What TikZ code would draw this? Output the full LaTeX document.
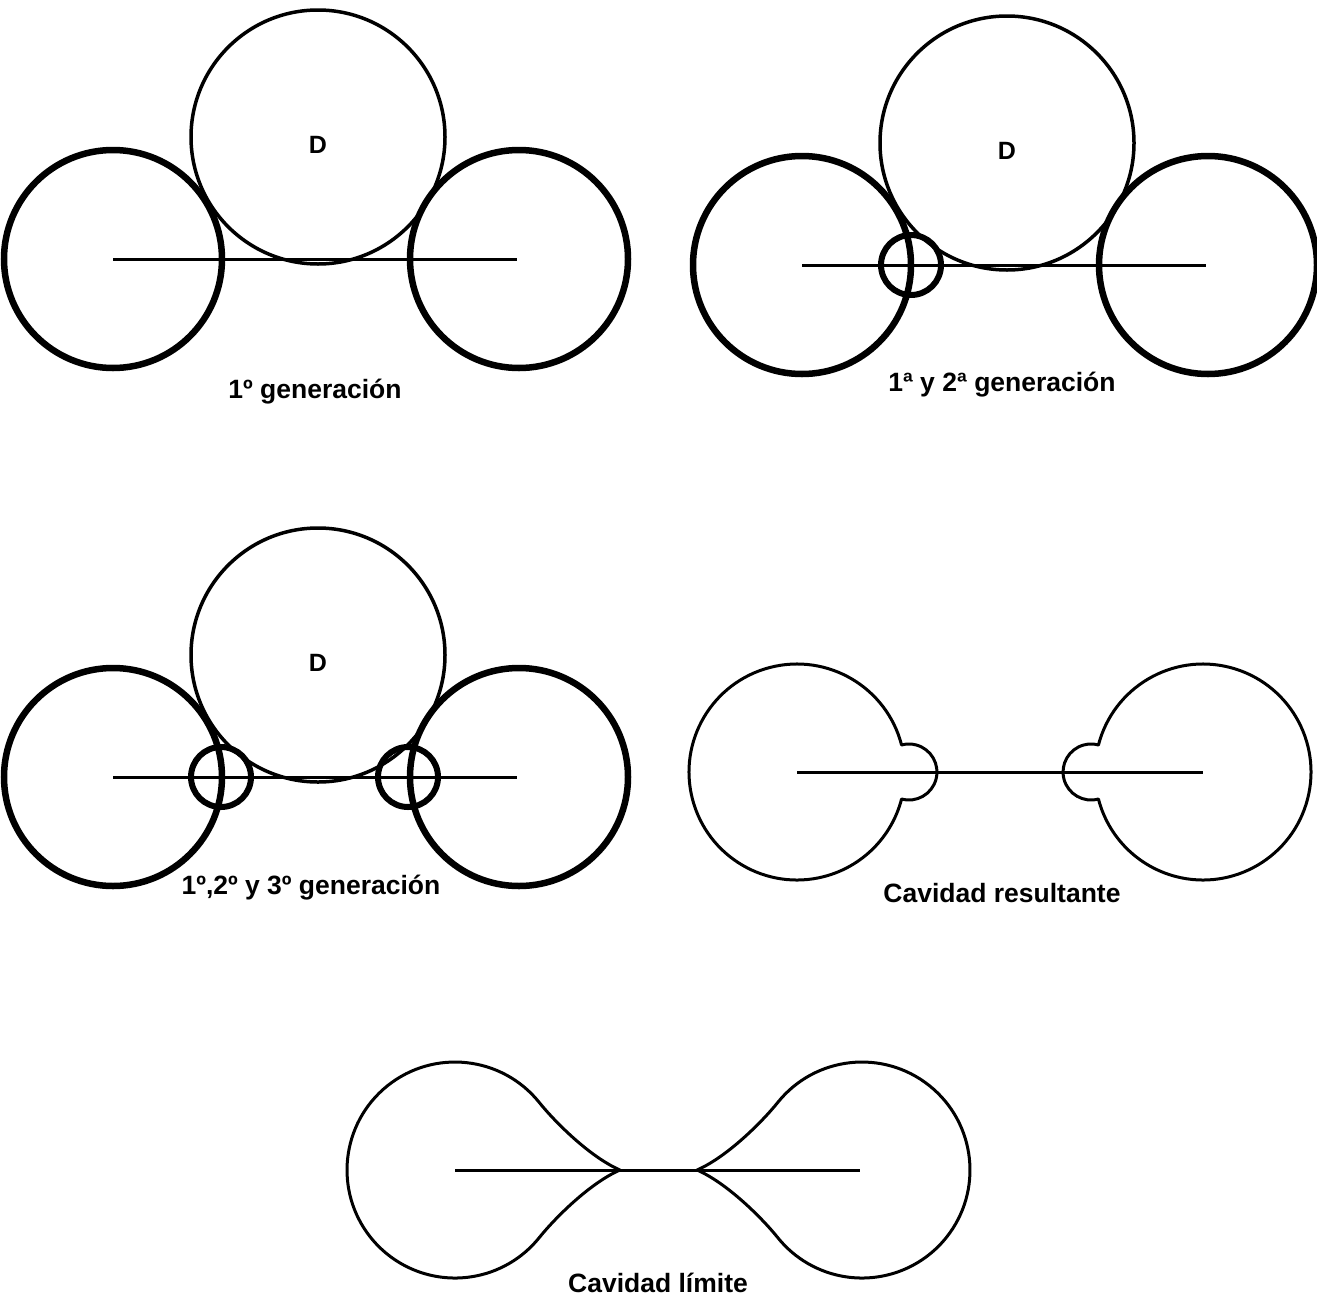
\documentclass[tikz,border=0pt]{standalone}
\usepackage{fontspec}
\setmainfont{Liberation Sans}
\usetikzlibrary{positioning}
\tikzset{
  big/.style={line width=6.5pt},
  ring/.style={line width=6pt},
  dcirc/.style={line width=3.5pt},
  axis/.style={line width=3pt},
  edge/.style={line width=3pt, line join=round},
  lbl/.style={font=\fontsize{26.5}{28}\selectfont\bfseries, inner sep=0pt},
  dlbl/.style={font=\fontsize{25}{27}\selectfont\bfseries, inner sep=0pt},
}

\begin{document}
\begin{tikzpicture}[x=1pt,y=-1pt]
\useasboundingbox (0,0) rectangle (1317,1301);
% the three generations: two large voids, sphere D and the axis
\foreach \dx/\dy/\n in {0/0/a, 689/6/b, 0/518/c}{
  \begin{scope}[shift={(\dx,\dy)}]
    \draw[big] (113,259) circle[radius=109];
    \draw[big] (519,259) circle[radius=109];
    \draw[dcirc] (318,137) circle[radius=127];
    \draw[axis] (113,259) -- (517,259);
    \node[dlbl] (D\n) at (318,145) {D};
  \end{scope}
}
% small voids of the later generations
\draw[ring] (911,265) circle[radius=30];
\draw[ring] (221,777) circle[radius=30];
\draw[ring] (408,777) circle[radius=30];

% resulting cavity
\draw[edge] (797,772) ++(-14.48:108) arc[start angle=-14.48, end angle=-345.52, radius=108]
  arc[start angle=105.3, end angle=-105.3, radius=28] -- cycle;
\draw[edge] (1203,772) ++(194.48:108) arc[start angle=194.48, end angle=525.52, radius=108]
  arc[start angle=74.7, end angle=285.3, radius=28] -- cycle;
\draw[axis] (797,772) -- (1203,772);

% limiting cavity
\draw[edge] (620,1170) .. controls (590,1157) and (555,1122) .. (539.3,1102.5)
  arc[start angle=-38.7, end angle=-321.3, radius=108]
  .. controls (555,1218) and (590,1183) .. (620,1170);
\draw[edge] (697,1170) .. controls (727,1157) and (762,1122) .. (777.7,1102.5)
  arc[start angle=218.7, end angle=501.3, radius=108]
  .. controls (762,1218) and (727,1183) .. (697,1170);
\draw[axis] (455,1170) -- (860,1170);

% captions
\node[lbl] (g1) at (315,392) {1º generación};
\node[lbl] (g2) at (1002,385) {1ª y 2ª generación};
\node[lbl] (g3) at (311,888) {1º,2º y 3º generación};
\node[lbl] (res) at (1002,893) {Cavidad resultante};
\node[lbl] (lim) at (658,1283) {Cavidad límite};
\end{tikzpicture}
\end{document}
